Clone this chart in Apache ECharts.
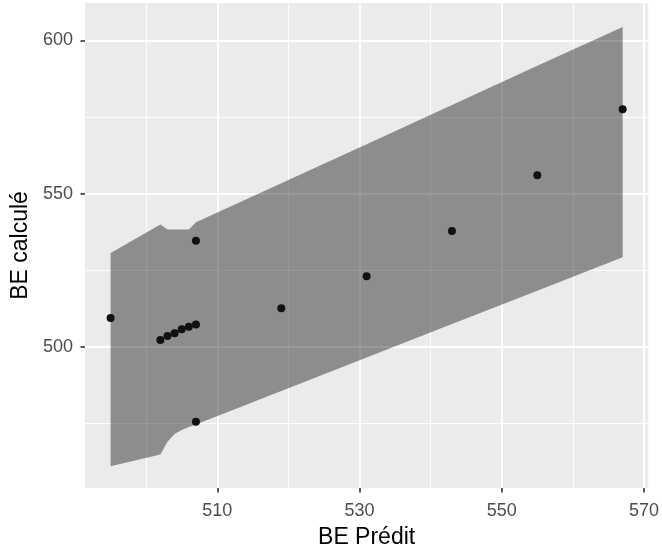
<!DOCTYPE html>
<html>
<head>
<meta charset="utf-8">
<script src="https://cdn.jsdelivr.net/npm/echarts@6/dist/echarts.min.js"></script>
<style>
html,body{margin:0;padding:0;background:#fff;}
#chart{width:662px;height:554px;}
</style>
</head>
<body>
<div id="chart"></div>
<script>
// Observed points
const pointsX = [495, 502, 503, 504, 505, 506, 507, 507, 507, 519, 531, 543, 555, 567];
const pointsY = [509.4, 502.2, 503.5, 504.4, 505.7, 506.5, 507.3, 534.6, 475.5, 512.6, 523.0, 537.8, 556.0, 577.5];

// Ribbon (interval band)
const bandX     = [495, 502, 503, 504, 505, 506, 507, 519, 531, 543, 555, 567];
const bandUpper = [530.6, 539.9, 538.3, 538.3, 538.3, 538.3, 540.6, 553.4, 566.1, 578.9, 591.7, 604.4];
const bandLower = [461.0, 464.8, 469.0, 471.5, 472.8, 473.8, 474.6, 485.6, 496.5, 507.4, 518.3, 529.2];

// Axis ticks
const xMajorTicks = [510, 530, 550, 570];
const xMinorTicks = [500, 520, 540, 560];
const yMajorTicks = [500, 550, 600];
const yMinorTicks = [475, 525, 575];

const xRange = [491.4, 570.6];
const yRange = [453.9, 612.2];

const FONT = "'Liberation Sans', Arial, sans-serif";

const chart = echarts.init(document.getElementById('chart'), null, {renderer: 'canvas'});

function majorAxis(ticks, range, isX) {
  return {
    type: 'value',
    min: range[0],
    max: range[1],
    position: isX ? 'bottom' : 'left',
    axisLine: {show: false},
    axisTick: {show: true, customValues: ticks, length: 4.5, lineStyle: {color: '#333333', width: 1.6}},
    axisLabel: {
      show: true, customValues: ticks, fontSize: 18, color: '#4D4D4D', fontFamily: FONT,
      margin: isX ? 14 : 12
    },
    splitLine: {show: true, lineStyle: {color: '#FFFFFF', width: 1.8}},
    name: isX ? 'BE Prédit' : 'BE calculé',
    nameLocation: 'middle',
    nameGap: isX ? 38 : 44,
    nameTextStyle: {fontSize: 23, color: '#000000', fontFamily: FONT}
  };
}
function minorAxis(ticks, range, isX) {
  return {
    type: 'value',
    min: range[0],
    max: range[1],
    position: isX ? 'bottom' : 'left',
    axisLine: {show: false},
    axisTick: {show: false, customValues: ticks},
    axisLabel: {show: false, customValues: ticks},
    splitLine: {show: true, lineStyle: {color: '#FFFFFF', width: 0.9}}
  };
}

const option = {
  animation: false,
  backgroundColor: '#FFFFFF',
  grid: {
    left: 85, right: 12, top: 3, bottom: 66,
    show: true, backgroundColor: '#EBEBEB', borderWidth: 0
  },
  xAxis: [majorAxis(xMajorTicks, xRange, true), minorAxis(xMinorTicks, xRange, true)],
  yAxis: [majorAxis(yMajorTicks, yRange, false), minorAxis(yMinorTicks, yRange, false)],
  series: [
    {
      type: 'custom',
      xAxisIndex: 0, yAxisIndex: 0,
      silent: true,
      clip: true,
      data: bandX.map((x, i) => [x, bandLower[i], bandUpper[i]]),
      encode: {x: 0, y: [1, 2]},
      renderItem: function (params, api) {
        if (params.dataIndex !== 0) return null;
        const pts = [];
        for (let i = 0; i < bandX.length; i++) pts.push(api.coord([bandX[i], bandUpper[i]]));
        for (let i = bandX.length - 1; i >= 0; i--) pts.push(api.coord([bandX[i], bandLower[i]]));
        return {type: 'polygon', shape: {points: pts}, style: {fill: 'rgba(0,0,0,0.4)'}};
      },
      z: 2
    },
    {
      type: 'scatter',
      xAxisIndex: 0, yAxisIndex: 0,
      data: pointsX.map((x, i) => [x, pointsY[i]]),
      symbol: 'circle',
      symbolSize: 8,
      itemStyle: {color: '#111111', opacity: 1},
      z: 3
    }
  ]
};
chart.setOption(option);
</script>
</body>
</html>
